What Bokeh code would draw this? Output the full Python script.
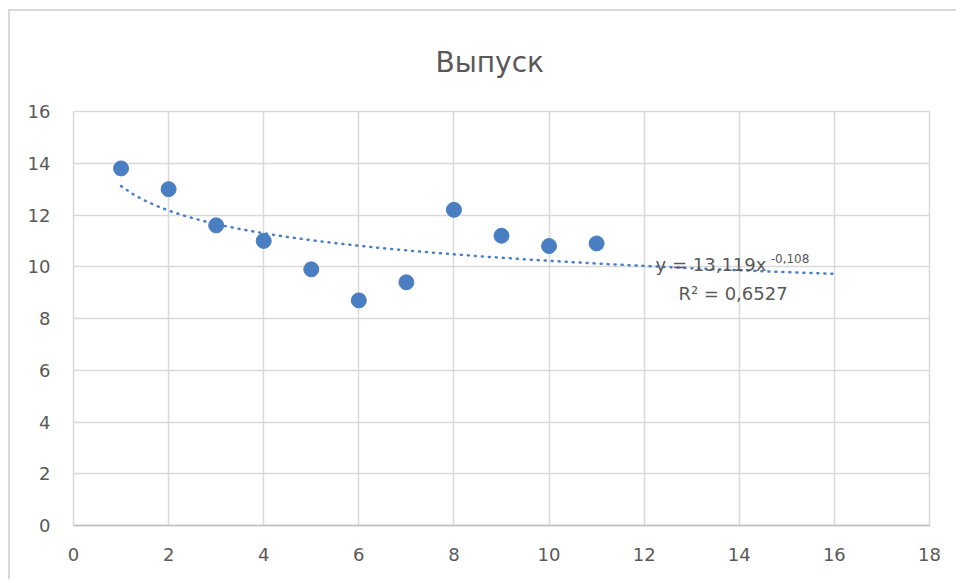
from bokeh.plotting import figure
from bokeh.models import Range1d, FixedTicker, Label, ColumnDataSource
from bokeh.embed import file_html
from bokeh.resources import INLINE

# data
x_vals = [1, 2, 3, 4, 5, 6, 7, 8, 9, 10, 11]
y_vals = [13.8, 13.0, 11.6, 11.0, 9.9, 8.7, 9.4, 12.2, 11.2, 10.8, 10.9]
x_ticks = [0, 2, 4, 6, 8, 10, 12, 14, 16, 18]
y_ticks = [0, 2, 4, 6, 8, 10, 12, 14, 16]
trend_a = 13.119
trend_b = -0.108
trend_r2 = "0,6527"
trend_x = [1 + i * 0.25 for i in range(61)]  # 1 .. 16
trend_y = [trend_a * xv ** trend_b for xv in trend_x]

FONT = "DejaVu Sans"
GRAY = "#595959"
GRID = "#d9d9d9"
BLUE = "#4A7EC3"

p = figure(width=948, height=570, output_backend="svg", toolbar_location=None,
           x_range=Range1d(0, 18), y_range=Range1d(0, 16),
           min_border_left=63, min_border_right=29, min_border_top=99, min_border_bottom=56,
           styles={"border-left": "2px solid #d9d9d9", "border-top": "2px solid #d9d9d9",
                   "margin-top": "9px", "margin-left": "8px"})

p.title.text = "Выпуск"
p.title.align = "left"
p.title.offset = 362
p.title.text_font = FONT
p.title.text_font_size = "28px"
p.title.text_font_style = "normal"
p.title.text_color = GRAY
p.title.standoff = 65

p.outline_line_color = GRID
p.outline_line_width = 1.5

for ax in (p.xaxis[0], p.yaxis[0]):
    ax.major_tick_line_color = None
    ax.minor_tick_line_color = None
    ax.major_label_text_font = FONT
    ax.major_label_text_font_size = "18px"
    ax.major_label_text_color = GRAY
p.xaxis.ticker = FixedTicker(ticks=x_ticks)
p.yaxis.ticker = FixedTicker(ticks=y_ticks)
p.xaxis.axis_line_color = "#bfbfbf"
p.xaxis.axis_line_width = 1.5
p.yaxis.axis_line_color = None
p.xaxis.major_label_standoff = 16
p.yaxis.major_label_standoff = 17

p.xgrid.ticker = FixedTicker(ticks=x_ticks)
p.ygrid.ticker = FixedTicker(ticks=y_ticks)
p.grid.grid_line_color = GRID
p.grid.grid_line_width = 1.5

p.line(trend_x, trend_y, line_color=BLUE, line_width=2.5, line_dash="1 6", line_cap="round")

src = ColumnDataSource(dict(x=x_vals, y=y_vals))
p.scatter("x", "y", source=src, size=15, fill_color=BLUE, line_color=BLUE)

p.add_layout(Label(x=12.24, y=10.1, text="y = 13,119x", text_font=FONT, text_font_size="18px",
                   text_color=GRAY, text_baseline="middle"))
p.add_layout(Label(x=14.66, y=10.33, text="-0,108", text_font=FONT, text_font_size="12px",
                   text_color=GRAY, text_baseline="middle"))
p.add_layout(Label(x=12.72, y=8.98, text="R² = " + trend_r2, text_font=FONT, text_font_size="18px",
                   text_color=GRAY, text_baseline="middle"))

open("out.html", "w").write(file_html(p, INLINE))
